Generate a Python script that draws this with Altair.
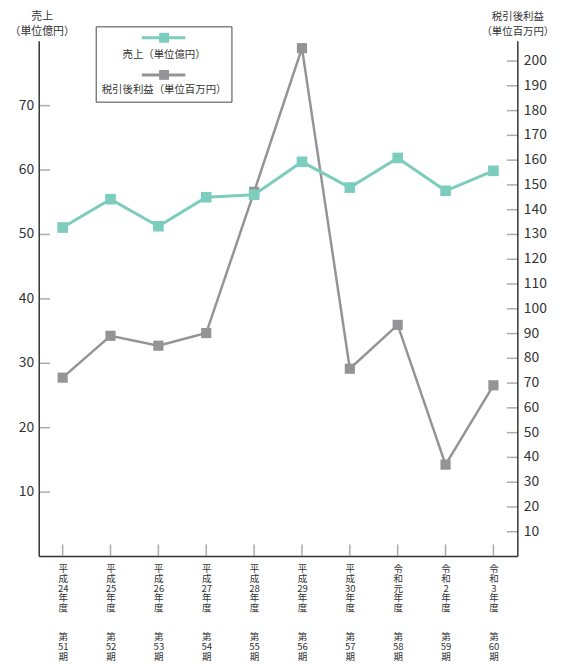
import altair as alt
import pandas as pd

# ---- data ----
eras = ["平成", "平成", "平成", "平成", "平成", "平成", "平成", "令和", "令和", "令和"]
years = ["24", "25", "26", "27", "28", "29", "30", "元", "2", "3"]
terms = ["51", "52", "53", "54", "55", "56", "57", "58", "59", "60"]
sales = [51.0, 55.4, 51.2, 55.7, 56.1, 61.2, 57.2, 61.8, 56.7, 59.8]          # 売上（単位億円）
profit = [72.0, 88.9, 84.9, 90.0, 147.0, 205.0, 75.6, 93.3, 36.9, 68.9]      # 税引後利益（単位百万円）
sales_ticks = [10, 20, 30, 40, 50, 60, 70]
profit_ticks = list(range(10, 201, 10))
series_names = ["売上（単位億円）", "税引後利益（単位百万円）"]

# category key: "fiscal-year lines # term lines", each line separated by "|"
labels = [f"{e[0]}|{e[1]}|{y}|年|度#第|{t}|期" for e, y, t in zip(eras, years, terms)]
df = pd.DataFrame({"period": labels, "sales": sales, "profit": profit})

TEAL = "#7ccdbd"
GRAY = "#949496"
TXT = "#333333"
TICK = "#aaaaaa"
FONT = "Noto Sans CJK JP"
W, H = 483, 520

xscale = alt.Scale(type="point", padding=0.5)
x_main = alt.X(
    "period:N", sort=labels, scale=xscale,
    axis=alt.Axis(
        orient="bottom", title=None,
        labelExpr="split(split(datum.label, '#')[0], '|')", labelAngle=0,
        labelAlign="center", labelBaseline="top", labelFontSize=9.6,
        labelLineHeight=9.7, labelPadding=8, ticks=False, tickSize=0,
        domainColor=TXT, domainWidth=1.5, labelColor=TXT, labelFont=FONT,
        labelOverlap=False, labelFlush=False, grid=False,
    ),
)
x_term = alt.X(
    "period:N", sort=labels, scale=xscale,
    axis=alt.Axis(
        orient="bottom", title=None,
        labelExpr="split(split(datum.label, '#')[1], '|')", labelAngle=0,
        labelAlign="center", labelBaseline="top", labelFontSize=9.6,
        labelLineHeight=10.3, labelPadding=76, ticks=False, tickSize=0,
        domain=False, labelColor=TXT, labelFont=FONT,
        labelOverlap=False, labelFlush=False, grid=False,
    ),
)
x_none = alt.X("period:N", sort=labels, scale=xscale, axis=None)

base = alt.Chart(df)

# ---- sales (left axis) ----
s_scale = alt.Scale(domain=[0, 80], nice=False, zero=True)
sales_line = base.mark_line(color=TEAL, strokeWidth=3).encode(
    x=x_none,
    y=alt.Y("sales:Q", scale=s_scale, axis=alt.Axis(
        orient="left", values=sales_ticks, title=["売上", "（単位億円）"],
        titleAngle=0, titleAlign="center", titleBaseline="middle",
        titleX=3, titleY=-24, titleLineHeight=14.5, titleFontSize=11,
        titleFontWeight="normal", titleColor=TXT, titleFont=FONT,
        labelFontSize=14, labelPadding=5, ticks=False, tickSize=0,
        domainColor=TXT, domainWidth=1.5, grid=False, labelColor=TXT,
        labelFont=FONT,
    )),
)
sales_pts = base.mark_square(color=TEAL, size=115, opacity=1).encode(
    x=x_none, y=alt.Y("sales:Q", scale=s_scale, axis=None)
)
sales_tickaxis = base.mark_point(opacity=0).encode(
    x=x_none,
    y=alt.Y("sales:Q", scale=s_scale, axis=alt.Axis(
        orient="right", offset=-W, values=sales_ticks, title=None,
        labels=False, domain=False, grid=False, ticks=True, tickSize=11,
        tickColor=TICK, tickWidth=1.5,
    )),
)
x_ticks = base.mark_rule(color=TICK, strokeWidth=1.5).encode(
    x=x_term,
    y=alt.YDatum(0, type="quantitative", scale=s_scale, axis=None),
    y2=alt.Y2Datum(1.8),
)
sales_layer = alt.layer(x_ticks, sales_tickaxis, sales_line, sales_pts).resolve_axis(
    x="independent", y="independent"
)

# ---- profit (right axis) ----
p_scale = alt.Scale(domain=[0, 208], nice=False, zero=True)
profit_line = base.mark_line(color=GRAY, strokeWidth=2.5).encode(
    x=x_main,
    y=alt.Y("profit:Q", scale=p_scale, axis=alt.Axis(
        orient="right", values=profit_ticks, title=["税引後利益", "（単位百万円）"],
        titleAngle=0, titleAlign="center", titleBaseline="middle",
        titleX=0, titleY=-24, titleLineHeight=14.5, titleFontSize=10.5,
        titleFontWeight="normal", titleColor=TXT, titleFont=FONT,
        labelFontSize=14, labelPadding=6, ticks=False, tickSize=0,
        domainColor=TXT, domainWidth=1.5, grid=False, labelColor=TXT,
        labelFont=FONT,
    )),
)
profit_pts = base.mark_square(color=GRAY, size=105, opacity=1).encode(
    x=x_main, y=alt.Y("profit:Q", scale=p_scale, axis=None)
)
profit_tickaxis = base.mark_point(opacity=0).encode(
    x=x_main,
    y=alt.Y("profit:Q", scale=p_scale, axis=alt.Axis(
        orient="left", offset=-W, values=profit_ticks, title=None,
        labels=False, domain=False, grid=False, ticks=True, tickSize=11,
        tickColor=TICK, tickWidth=1.5,
    )),
)
profit_layer = alt.layer(profit_tickaxis, profit_line, profit_pts).resolve_axis(y="independent")

# ---- legend (box with symbol above label) ----
one = alt.Chart(pd.DataFrame({"k": [0]}))
legend_layers = [
    one.mark_rect(fill="white", stroke="#444444", strokeWidth=1).encode(
        x=alt.value(58), x2=alt.value(195), y=alt.value(-14), y2=alt.value(62)
    )
]
for name, color, sy, ty in [(series_names[0], TEAL, -3, 14), (series_names[1], GRAY, 34.5, 50)]:
    legend_layers.append(one.mark_rule(color=color, strokeWidth=3).encode(
        x=alt.value(104), x2=alt.value(148), y=alt.value(sy)))
    legend_layers.append(one.mark_square(color=color, size=100, opacity=1).encode(
        x=alt.value(126.5), y=alt.value(sy)))
    legend_layers.append(one.mark_text(
        text=name, font=FONT, fontSize=10.5, color=TXT, align="center", baseline="middle"
    ).encode(x=alt.value(126.5), y=alt.value(ty)))

chart = alt.layer(profit_layer, sales_layer, *legend_layers).resolve_scale(
    y="independent"
).properties(
    width=W, height=H,
    autosize=alt.AutoSizeParams(type="none"),
    padding={"left": 31, "top": 30, "right": 38, "bottom": 112},
).configure_view(stroke=None)

chart.save("out.html", embed_options={"renderer": "svg", "actions": False})
